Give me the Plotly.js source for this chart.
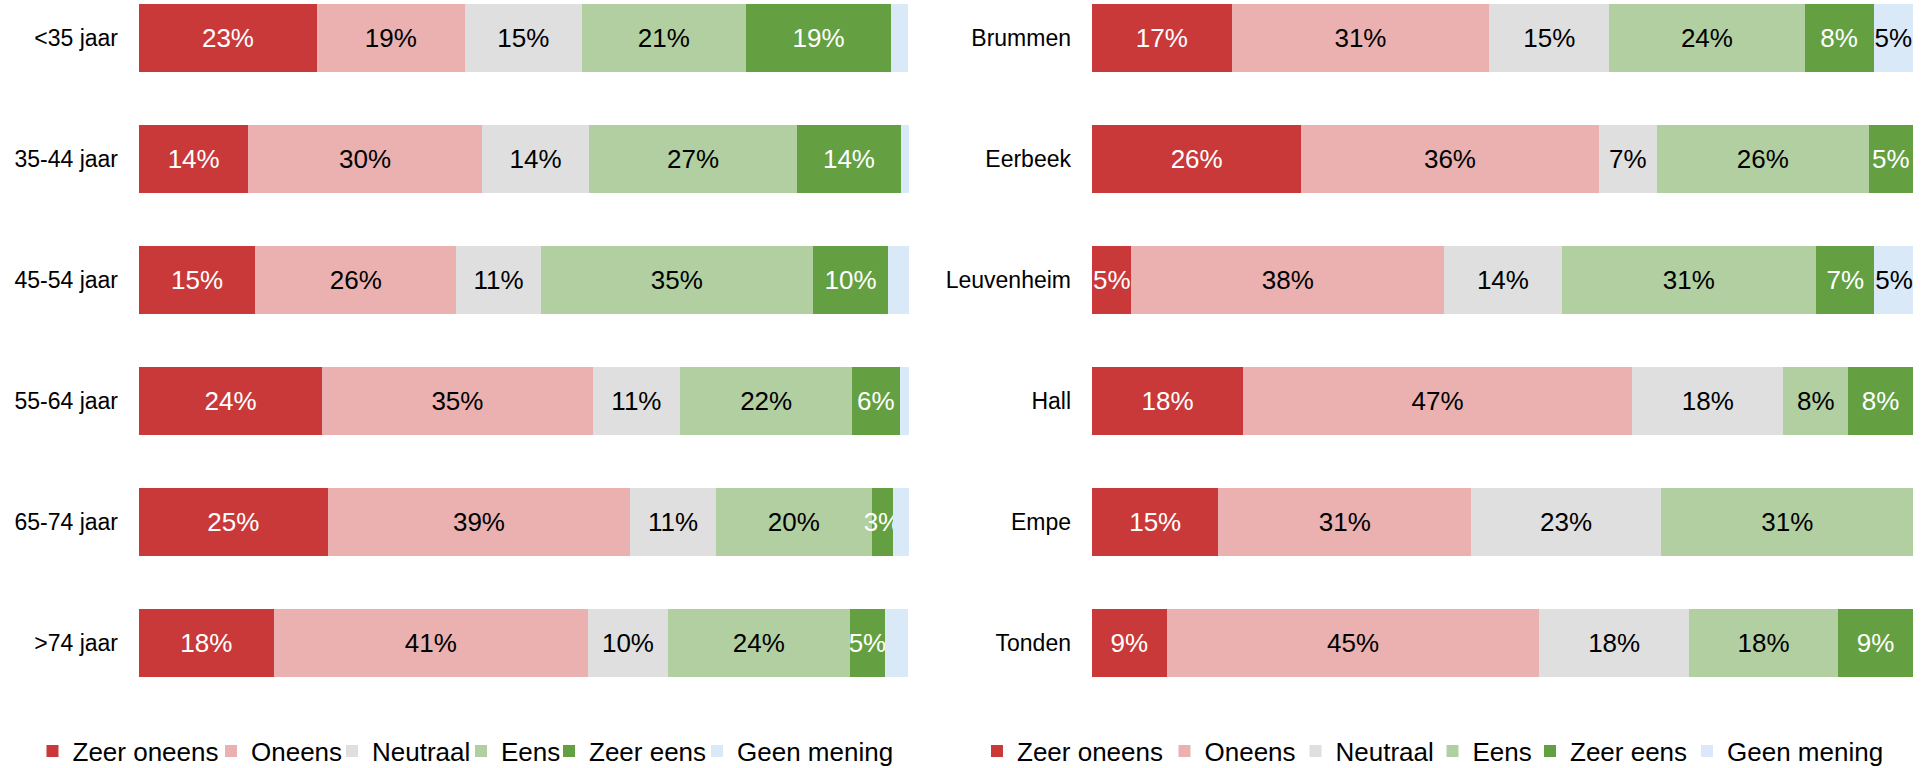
<!DOCTYPE html>
<html>
<head>
<meta charset="utf-8">
<script src="https://cdn.plot.ly/plotly-3.0.1.min.js"></script>
<style>html,body{margin:0;padding:0;background:#fff;}#chart{width:1932px;height:768px;}</style>
</head>
<body>
<div id="chart"></div>
<script>
// Categories
const leeftijden = ['<35 jaar', '35-44 jaar', '45-54 jaar', '55-64 jaar', '65-74 jaar', '>74 jaar'];
const kernen = ['Brummen', 'Eerbeek', 'Leuvenheim', 'Hall', 'Empe', 'Tonden'];
const reeksen = ['Zeer oneens', 'Oneens', 'Neutraal', 'Eens', 'Zeer eens', 'Geen mening'];

// Left panel (age groups), percentages
const zeerOneensL = [23.1, 14.2, 15.1, 23.8, 24.5, 17.5];
const oneensL     = [19.2, 30.3, 26.1, 35.1, 39.3, 40.8];
const neutraalL   = [15.2, 14.0, 11.0, 11.4, 11.1, 10.4];
const eensL       = [21.3, 26.9, 35.3, 22.3, 20.3, 23.6];
const zeerEensL   = [18.9, 13.6, 9.8, 6.2, 2.7, 4.6];
const geenL       = [2.2, 1.1, 2.7, 1.2, 2.1, 3.0];

// Right panel (villages), percentages
const zeerOneensR = [17.0, 25.5, 4.8, 18.4, 15.4, 9.1];
const oneensR     = [31.4, 36.2, 38.1, 47.4, 30.8, 45.4];
const neutraalR   = [14.6, 7.1, 14.3, 18.4, 23.1, 18.2];
const eensR       = [23.8, 25.8, 31.0, 7.9, 30.8, 18.2];
const zeerEensR   = [8.4, 5.4, 7.1, 7.9, 0, 9.1];
const geenR       = [4.8, 0, 4.8, 0, 0, 0];

const kleuren = ['#C9393A', '#EAB1B0', '#DEDFDE', '#B2CFA1', '#64A042', '#DAE9F8'];
const tekstKleuren = ['#FFFFFF', '#000000', '#000000', '#000000', '#FFFFFF', '#000000'];
const FONT = 'Arial, "Liberation Sans", sans-serif';

const leftSeries = [zeerOneensL, oneensL, neutraalL, eensL, zeerEensL, geenL];
const rightSeries = [zeerOneensR, oneensR, neutraalR, eensR, zeerEensR, geenR];

// legend entry positions (px): swatch left edge and text start in the reference
const legSwatchL = [49, 227, 348, 477, 566, 713];
const legTextL   = [68, 247, 368, 497, 584, 733];
const legSwatchR = [993, 1181, 1311, 1448, 1546, 1703];
const legTextR   = [1013, 1200, 1332, 1469, 1566, 1723];

function labels(vals, show) {
  return vals.map(v => (show && v > 0) ? Math.round(v) + '%' : '');
}

const traces = [];
const legends = {};
const W = 1932, PLOT_H = 700;
function addLegend(id, swatch, text) {
  const px = (swatch + text) / 2 - 26;
  legends[id] = {
    orientation: 'h', xref: 'paper', yref: 'paper', yanchor: 'middle', y: (PLOT_H - 751) / PLOT_H,
    xanchor: 'left', x: px / W, bgcolor: 'rgba(0,0,0,0)',
    font: {family: FONT, size: 26, color: '#000'}, itemclick: false, itemdoubleclick: false
  };
}

leftSeries.forEach((vals, i) => {
  const id = i === 0 ? 'legend' : 'legend' + (i + 1);
  addLegend(id, legSwatchL[i], legTextL[i]);
  traces.push({
    type: 'bar', orientation: 'h', name: reeksen[i],
    x: vals, y: leeftijden, xaxis: 'x', yaxis: 'y',
    marker: {color: kleuren[i], line: {width: 0}},
    text: labels(vals, i !== 5), textposition: 'inside', insidetextanchor: 'middle',
    textangle: 0, constraintext: 'none',
    textfont: {family: FONT, size: 26, color: tekstKleuren[i]},
    hoverinfo: 'none', legend: id
  });
});
rightSeries.forEach((vals, i) => {
  const id = 'legend' + (i + 7);
  addLegend(id, legSwatchR[i], legTextR[i]);
  traces.push({
    type: 'bar', orientation: 'h', name: reeksen[i],
    x: vals, y: kernen, xaxis: 'x2', yaxis: 'y2',
    marker: {color: kleuren[i], line: {width: 0}},
    text: labels(vals, true), textposition: 'inside', insidetextanchor: 'middle',
    textangle: 0, constraintext: 'none',
    textfont: {family: FONT, size: 26, color: tekstKleuren[i]},
    hoverinfo: 'none', legend: id
  });
});

const yRange = [5.471, -0.314];
const axisY = {
  range: yRange, showgrid: false, zeroline: false, showline: false, ticks: '',
  ticklabelstandoff: 20, tickfont: {family: FONT, size: 23, color: '#000'}, fixedrange: true
};
const axisX = {range: [0, 100], showgrid: false, zeroline: false, showline: false,
  showticklabels: false, ticks: '', fixedrange: true};

const layout = Object.assign({
  width: W, height: 768,
  margin: {l: 0, r: 0, t: 0, b: 768 - PLOT_H, autoexpand: false},
  paper_bgcolor: '#fff', plot_bgcolor: '#fff',
  barmode: 'stack', bargap: 0.446,
  showlegend: true,
  xaxis: Object.assign({domain: [139 / W, 909 / W], anchor: 'y'}, axisX),
  yaxis: Object.assign({anchor: 'x'}, axisY),
  xaxis2: Object.assign({domain: [1092 / W, 1913 / W], anchor: 'y2'}, axisX),
  yaxis2: Object.assign({anchor: 'x2'}, axisY)
}, legends);

Plotly.newPlot('chart', traces, layout, {displayModeBar: false, staticPlot: true});
</script>
</body>
</html>
